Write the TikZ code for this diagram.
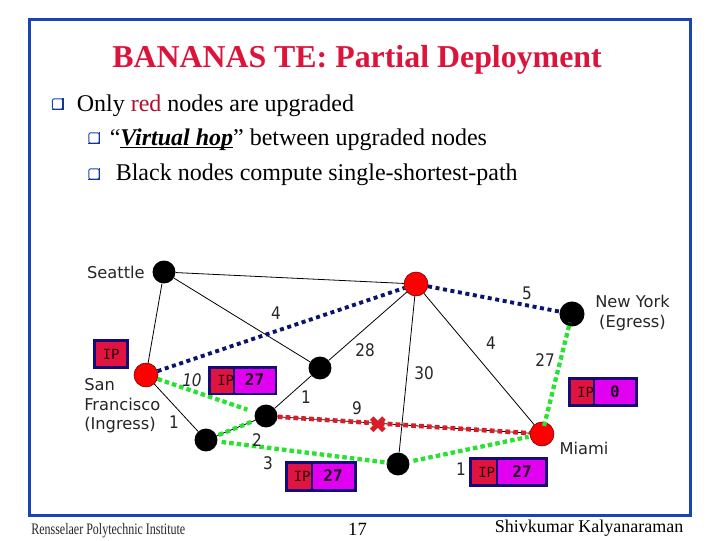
\documentclass[tikz,border=0pt]{standalone}
\usepackage{fontspec}
\usepackage{graphicx}
\setmainfont{Liberation Serif}
\newfontfamily\vera{DejaVu Sans}
\newfontfamily\veranarrow[FakeStretch=0.88]{DejaVu Sans}
\newfontfamily\veramono{DejaVu Sans Mono}
\newcommand\tightrule[1]{\setbox0=\hbox{#1}\rlap{\rule[-2.4pt]{\wd0}{1pt}}\box0}
\definecolor{frameblue}{RGB}{24,68,184}
\definecolor{titlered}{RGB}{220,20,60}
\definecolor{pathblue}{RGB}{10,20,110}
\definecolor{pathgreen}{RGB}{40,225,50}
\definecolor{pathred}{RGB}{215,30,40}
\definecolor{lblnavy}{RGB}{20,10,120}
\definecolor{lblred}{RGB}{225,20,65}
\definecolor{lblmag}{RGB}{225,0,240}
\tikzset{
  x=0.75pt,y=-0.75pt,
  blacknode/.style={circle,fill=black,draw=none,inner sep=0pt,minimum size=17.2pt},
  rednode/.style={circle,fill=red,draw=black!60!red,line width=.4pt,inner sep=0pt,minimum size=18pt},
  link/.style={line width=.6pt,black},
  bluepath/.style={pathblue,line width=2.9pt,dash pattern=on 3pt off 2.7pt},
  greenpath/.style={pathgreen,line width=3.2pt,dash pattern=on 3.4pt off 2.3pt},
  redpath/.style={pathred,line width=3.4pt,dash pattern=on 3.6pt off 2.3pt},
  city/.style={font=\vera\fontsize{12.2}{14.6}\selectfont,align=center,inner sep=0pt,text=black!85},
  cost/.style={font=\veranarrow\fontsize{13}{15}\selectfont,inner sep=0pt,text=black!85},
  bullet/.style={draw=frameblue,line width=.7pt,rounded corners=.8pt,minimum size=7.6pt,inner sep=0pt,fill=white},
  bulletedge/.style={frameblue!80!black,line width=1.2pt},
  body/.style={font=\fontsize{18}{20}\selectfont,anchor=base west,inner sep=0pt},
  redbox/.style={fill=lblred,draw=lblnavy,line width=1.9pt},
  magbox/.style={fill=lblmag,draw=lblnavy,line width=1.9pt},
  iptext/.style={font=\veramono\fontsize{10.5}{12}\selectfont,inner sep=0pt,text=black!85!red},
  numtext/.style={font=\veramono\bfseries\fontsize{12}{12}\selectfont,inner sep=0pt,text=black!85!lblmag},
}
\begin{document}
\begin{tikzpicture}
\useasboundingbox (0,0) rectangle (720,540);
\fill[white] (0,0) rectangle (720,540);
\draw[frameblue,line width=2.25pt] (29.5,19.5) rectangle (690.5,515.5);
% texts
\node[font=\bfseries\fontsize{23.9}{26}\selectfont,text=titlered,inner sep=0pt,anchor=base] (title) at (357,67) {BANANAS TE: Partial Deployment};
\node[bullet] (b1) at (57.5,104) {};
\node[bullet] (b2) at (94,138) {};
\node[bullet] (b3) at (94,174) {};
\draw[bulletedge] (b1.south west) -- (b1.south east) -- (b1.north east);
\draw[bulletedge] (b2.south west) -- (b2.south east) -- (b2.north east);
\draw[bulletedge] (b3.south west) -- (b3.south east) -- (b3.north east);
\node[body] (t1) at (76.5,111) {Only \textcolor{titlered!80!black}{red} nodes are upgraded};
\node[body] (t2) at (109.5,145) {“\tightrule{\textbf{\textit{Virtual hop}}}” between upgraded nodes};
\node[body] (t3) at (115.5,180) {Black nodes compute single-shortest-path};
% nodes
\node[blacknode] (sea) at (164,272) {};
\node[rednode]   (top) at (416,284) {};
\node[blacknode,minimum size=18.8pt] (ny) at (572,314) {};
\node[rednode]   (sf) at (146,375) {};
\node[blacknode] (a) at (320,368) {};
\node[blacknode] (b) at (266,416) {};
\node[blacknode] (c) at (206,440) {};
\node[blacknode] (d) at (398,464) {};
\node[rednode]   (mia) at (542,434) {};
% thin links
\draw[link] (sea) -- (top);
\draw[link] (sea) -- (sf);
\draw[link] (sea) -- (a);
\draw[link] (a) -- (top);
\draw[link] (a) -- (b);
\draw[link] (sf) -- (c);
\draw[link] (c) -- (b);
\draw[link] (top) -- (d);
\draw[link] (top) -- (mia);
\draw[link] (b) -- (mia);
% paths
\draw[bluepath] (sf) -- (top);
\draw[bluepath] (top) -- (ny);
\draw[greenpath,shorten >=6pt] (sf) -- (b);
\draw[greenpath,yshift=1.5pt,shorten <=1.5pt,shorten >=1pt] (c) -- (b);
\draw[greenpath,shorten <=3pt,shorten >=-1pt] (c) -- (d);
\draw[greenpath,shorten <=3pt,shorten >=1pt] (d) -- (mia);
\draw[greenpath,shorten <=-3pt,shorten >=-3pt] (mia) -- (ny);
\draw[redpath,yshift=1.6pt] (b) -- (mia);
% cross
\node[text=pathred,font=\vera\fontsize{18}{18}\selectfont,inner sep=0pt] (x) at (378,425) {✖};
% city labels
\node[city,anchor=east] (lsea) at (145,272) {Seattle};
\node[city] (lny) at (632.5,313) {New York\\(Egress)};
\node[city,align=left,anchor=west] (lsf) at (84,406) {San\\Francisco\\(Ingress)};
\node[city] (lmia) at (584,448) {Miami};
% costs
\node[cost] (c4a) at (276,313) {4};
\node[cost] (c5) at (527,293) {5};
\node[cost] (c28) at (365,350) {28};
\node[cost] (c4b) at (491,343) {4};
\node[cost] (c27) at (545,360) {27};
\node[cost] (c30) at (424,373) {30};
\node[cost,font=\veranarrow\itshape\fontsize{13}{15}\selectfont] (c10) at (192,380) {10};
\node[cost] (c1a) at (306,397) {1};
\node[cost] (c9) at (357,408) {9};
\node[cost] (c1b) at (174,422) {1};
\node[cost] (c2) at (257,440) {2};
\node[cost] (c3) at (268,463) {3};
\node[cost] (c1c) at (461,469) {1};
% labels
\draw[redbox] (94.5,340.5) rectangle (127.5,367.5);
\node[iptext] (ip0) at (111,354) {IP};
\draw[redbox] (209.5,367.5) rectangle (276,394);
\node[iptext,anchor=west] (ip1) at (217,380.5) {IP};
\draw[magbox] (234,367.5) rectangle (276,394);
\node[numtext] (n1) at (254.5,380) {27};
\draw[redbox] (286.5,462.5) rectangle (355.5,490.5);
\node[iptext,anchor=west] (ip2) at (293.5,476.5) {IP};
\draw[magbox] (312,462.5) rectangle (355.5,490.5);
\node[numtext] (n2) at (333,476) {27};
\draw[redbox] (569.5,378.5) rectangle (636.5,405.5);
\node[iptext,anchor=west] (ip3) at (577,392.5) {IP};
\draw[magbox] (594,378.5) rectangle (636.5,405.5);
\node[numtext] (n3) at (615,392) {0};
\draw[redbox] (470.5,458.5) rectangle (546.5,485.5);
\node[iptext,anchor=west] (ip4) at (478,472) {IP};
\draw[magbox] (497,458.5) rectangle (546.5,485.5);
\node[numtext] (n4) at (522,472) {27};
% footer
\node[font=\fontsize{12}{14}\selectfont,inner sep=0pt,anchor=base west,text=black!85] (ft1) at (31,534) {\scalebox{0.75}[1]{Rensselaer Polytechnic Institute}};
\node[font=\fontsize{14}{16}\selectfont,inner sep=0pt,anchor=base] (ft2) at (357.5,535) {17};
\node[font=\fontsize{13.5}{16}\selectfont,inner sep=0pt,anchor=base] (ft3) at (589,532) {Shivkumar Kalyanaraman};
\end{tikzpicture}
\end{document}
